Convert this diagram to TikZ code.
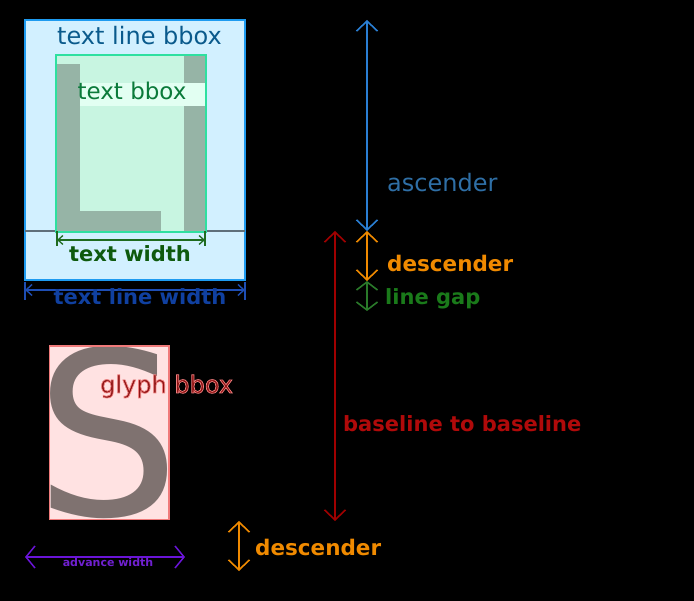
\documentclass[tikz,border=0pt]{standalone}
\usepackage{fontspec}
\setmainfont{DejaVu Sans}
\usetikzlibrary{arrows.meta}
\definecolor{lbfill}{HTML}{D2F0FF}
\definecolor{lbdraw}{HTML}{1E9BF0}
\definecolor{lbtext}{HTML}{0A5A8C}
\definecolor{tbfill}{HTML}{C8F5E1}
\definecolor{tbdraw}{HTML}{2EE0A0}
\definecolor{tbtext}{HTML}{0A7A3A}
\definecolor{tblab}{HTML}{E2FFF2}
\definecolor{lglyph}{HTML}{96B4A6}
\definecolor{basegrey}{HTML}{5F6F7A}
\definecolor{twcol}{HTML}{1F6B1F}
\definecolor{twtext}{HTML}{0E5A0E}
\definecolor{tlwcol}{HTML}{1E4EB4}
\definecolor{tlwtext}{HTML}{1040A0}
\definecolor{asccol}{HTML}{2A7FD4}
\definecolor{asctext}{HTML}{2F6FA6}
\definecolor{desccol}{HTML}{F08A00}
\definecolor{gapcol}{HTML}{2A7A2A}
\definecolor{gaptext}{HTML}{1A7A1A}
\definecolor{b2bcol}{HTML}{A00000}
\definecolor{b2btext}{HTML}{B00A0A}
\definecolor{gbfill}{HTML}{FFE2E2}
\definecolor{gbdraw}{HTML}{F07A7A}
\definecolor{sglyph}{HTML}{7F7270}
\definecolor{gbtext}{HTML}{8E1414}
\definecolor{advcol}{HTML}{6A14D8}
\definecolor{advtext}{HTML}{7020D0}
\newcommand{\fsz}[1]{\fontsize{#1}{#1}\selectfont}
\newcommand{\haloon}{\special{pdf:literal direct 2 Tr 0.7 w 0.94 0.50 0.50 RG}}
\newcommand{\halooff}{\special{pdf:literal direct 0 Tr}}
\tikzset{
  box/.style={inner sep=0pt, line width=1.6pt},
  lbl/.style={inner sep=0pt},
  bigdim/.style={line width=1.6pt, {Straight Barb[length=10pt,width=21pt]}-{Straight Barb[length=10pt,width=21pt]}},
  gapdim/.style={line width=1.6pt, {Straight Barb[length=8pt,width=21pt]}-{Straight Barb[length=8pt,width=21pt]}},
  smalldim/.style={line width=1.3pt, {Straight Barb[length=5pt,width=9pt]}-{Straight Barb[length=5pt,width=9pt]}},
  meddim/.style={line width=1.4pt, {Straight Barb[length=6pt,width=11pt]}-{Straight Barb[length=6pt,width=11pt]}},
  advdim/.style={line width=1.5pt, {Straight Barb[length=9pt,width=22pt]}-{Straight Barb[length=9pt,width=22pt]}},
}
\begin{document}
\begin{tikzpicture}[x=1pt,y=-1pt]
\fill[black] (0,0) rectangle (694,601);
\useasboundingbox (0,0) rectangle (694,601);
% text line bbox
\node[box, draw=lbdraw, fill=lbfill, minimum width=220pt, minimum height=260pt] (linebox) at (135,150) {};
\node[lbl, anchor=base, text=lbtext] (linelab) at (139.5,45) {\fsz{24}text line bbox};
% baseline
\coordinate (bl1) at (25,231);
\coordinate (bl2) at (245,231);
\draw[basegrey, line width=2pt] (bl1) -- (bl2);
% text bbox
\node[box, fill=tbfill, minimum width=148pt, minimum height=175pt] (textbox) at (131,143.5) {};
\fill[lglyph] (57,64) rectangle (80,231);
\fill[lglyph] (57,211) rectangle (161,231);
\fill[lglyph] (184,56) rectangle (205,85);
\fill[lglyph] (184,106) rectangle (205,231);
\draw[tbdraw, line width=2pt] (textbox.south west) rectangle (textbox.north east);
\node[lbl, fill=tblab, minimum width=125pt, minimum height=23pt] (tblabbg) at (142.5,94.5) {};
\node[lbl, anchor=base, text=tbtext] (textlab) at (132,100) {\fsz{23}text bbox};
% text width
\coordinate (tw1) at (57,240);
\coordinate (tw2) at (205,240);
\coordinate (tw1a) at (57,231);
\coordinate (tw1b) at (57,246);
\coordinate (tw2a) at (205,231);
\coordinate (tw2b) at (205,246);
\draw[twcol, line width=1.3pt] (tw1a) -- (tw1b) (tw2a) -- (tw2b);
\draw[twcol, smalldim] (tw1) -- (tw2);
\node[lbl, anchor=base, text=twtext] (twlab) at (130,262) {\fsz{21}\bfseries text width};
% text line width
\coordinate (tlw1) at (25,290);
\coordinate (tlw2) at (245,290);
\coordinate (tlw1a) at (25,282);
\coordinate (tlw1b) at (25,300);
\coordinate (tlw2a) at (245,282);
\coordinate (tlw2b) at (245,300);
\draw[tlwcol, line width=1.4pt] (tlw1a) -- (tlw1b) (tlw2a) -- (tlw2b);
\draw[tlwcol, meddim] (tlw1) -- (tlw2);
\node[lbl, anchor=base, text=tlwtext] (tlwlab) at (140,305) {\fsz{21}\bfseries text line width};
% ascender
\coordinate (asc1) at (367,20);
\coordinate (asc2) at (367,231);
\draw[asccol, bigdim] (asc1) -- (asc2);
\node[lbl, anchor=base west, text=asctext] (asclab) at (387,192) {\fsz{24}ascender};
% descender
\coordinate (dsc1) at (367,231);
\coordinate (dsc2) at (367,281);
\draw[desccol, bigdim] (dsc1) -- (dsc2);
\node[lbl, anchor=base west, text=desccol] (dsclab) at (387,272) {\fsz{21.5}\bfseries descender};
% line gap
\coordinate (gap1) at (367,281);
\coordinate (gap2) at (367,311);
\draw[gapcol, gapdim] (gap1) -- (gap2);
\node[lbl, anchor=base west, text=gaptext] (gaplab) at (385,305) {\fsz{21}\bfseries line gap};
% baseline to baseline
\coordinate (b2b1) at (335,231);
\coordinate (b2b2) at (335,521);
\draw[b2bcol, bigdim] (b2b1) -- (b2b2);
\node[lbl, anchor=base west, text=b2btext] (b2blab) at (343,432) {\fsz{21}\bfseries baseline to baseline};
% bottom descender
\coordinate (bd1) at (239,521);
\coordinate (bd2) at (239,571);
\draw[desccol, bigdim] (bd1) -- (bd2);
\node[lbl, anchor=base west, text=desccol] (bdlab) at (255,555) {\fsz{21.5}\bfseries descender};
% glyph bbox
\node[box, fill=gbfill, minimum width=118pt, minimum height=172pt] (glyphbox) at (109,433) {};
\begin{scope}
\clip (glyphbox.south west) rectangle (glyphbox.north east);
\node[lbl, anchor=base west, text=sglyph] (sglyphnode) at (35,516) {\fsz{228}S};
\end{scope}
\draw[gbdraw, line width=1.4pt] (glyphbox.south west) rectangle (glyphbox.north east);
\node[lbl, anchor=base west, text=gbtext] (gblab) at (100,393) {\fsz{24}\haloon glyph bbox\halooff};
% advance width
\coordinate (adv1) at (25,557);
\coordinate (adv2) at (185,557);
\draw[advcol, advdim] (adv1) -- (adv2);
\node[lbl, anchor=base, text=advtext] (advlab) at (108,566) {\fsz{11}\bfseries advance width};
\end{tikzpicture}
\end{document}
